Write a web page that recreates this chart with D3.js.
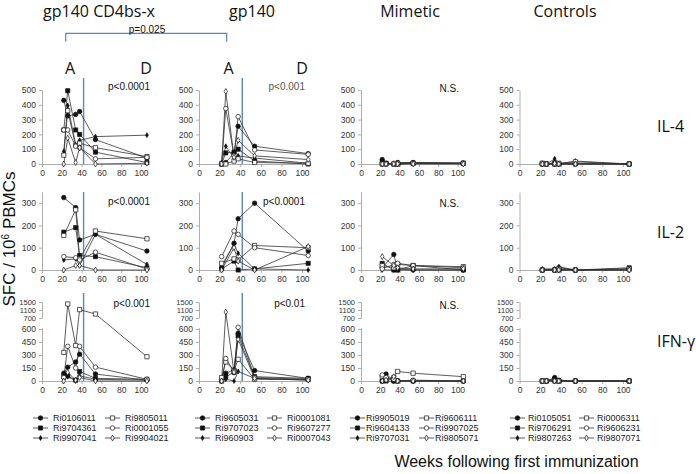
<!DOCTYPE html>
<html>
<head>
<meta charset="utf-8">
<script src="https://cdn.jsdelivr.net/npm/d3@7"></script>
<style>
  html, body { margin: 0; padding: 0; background: #fff; }
  svg { display: block; }
</style>
</head>
<body>
<script>
// ---------------- DATA ----------------
const weeks = [22, 26, 34, 38, 54, 106];
const groupTitles = ["gp140 CD4bs-x", "gp140", "Mimetic", "Controls"];
const cytokineLabels = ["IL-4", "IL-2", "IFN-\u03b3"];
const pIL4 = ["p<0.0001", "p<0.001", "N.S.", ""];
const pIL2 = ["p<0.0001", "p<0.0001", "N.S.", ""];
const pIFN = ["p<0.001", "p<0.01", "N.S.", ""];
const bracketLabel = "p=0.025";
const phaseLabels = ["A", "D"];
const blueLineWeek = 42;
const xTicks = [0, 20, 40, 60, 80, 100];
const yTicksIL4 = [0, 100, 200, 300, 400, 500];
const yTicksIL2 = [0, 100, 200, 300];
const yTicksIFNLow = [0, 150, 300, 450, 600];
const yTicksIFNHigh = [700, 1100, 1500];

const animalsCD4bs = ["Ri0106011", "Ri9704361", "Ri9907041", "Ri9805011", "Ri0001055", "Ri9904021"];
const animalsGp140 = ["Ri9605031", "Ri9707023", "Ri960903", "Ri0001081", "Ri9607277", "Ri0007043"];
const animalsMimetic = ["Ri9905019", "Ri9604133", "Ri9707031", "Ri9606111", "Ri9907025", "Ri9805071"];
const animalsControls = ["Ri0105051", "Ri9706291", "Ri9807263", "Ri0006311", "Ri9606231", "Ri9807071"];

// values per animal at the weeks above (null = not measured)
const il4CD4bs = [
  [430, 325, 335, 355, 165, 40],
  [230, 495, 230, 200, 80, 10],
  [85, 395, 130, 160, 185, 195],
  [60, 360, 125, 140, 110, 50],
  [230, 230, 120, 110, 35, 45],
  [0, 175, 10, 110, 0, 5]
];
const il2CD4bs = [
  [325, null, 280, 135, 160, 85],
  [170, null, 190, 65, 60, 10],
  [45, null, 50, 20, 160, 25],
  [155, null, 270, 50, 175, 140],
  [60, null, 55, 45, 80, 5],
  [0, null, 20, 20, 0, 0]
];
const ifnCD4bs = [
  [90, 160, 220, 310, 80, 10],
  [50, 60, 10, 110, 30, 20],
  [20, 50, 0, 60, 20, 10],
  [330, 1400, 410, 1120, 900, 280],
  [40, 400, 150, 400, 160, 20],
  [0, 100, 10, 40, 0, 0]
];
const il4Gp140 = [
  [5, 10, 75, 255, 120, 70],
  [0, 75, 80, 100, 20, 0],
  [10, 120, 40, 55, 40, 5],
  [0, 0, 20, 35, 10, 5],
  [5, 375, 55, 320, 95, 65],
  [0, 490, 45, 160, 55, 30]
];
const il2Gp140 = [
  [10, null, 120, 230, 300, 85],
  [5, null, 40, 0, 5, 30],
  [20, null, 115, 75, 5, 0],
  [30, null, 50, 45, 110, 100],
  [60, null, 175, 160, 100, 65],
  [0, null, 100, 40, 0, 105]
];
const ifnGp140 = [
  [10, 90, 130, 550, 120, 30],
  [0, 50, 100, 520, 50, 30],
  [20, 20, 0, 110, 30, 10],
  [40, 220, 120, 250, 20, 20],
  [0, 260, 110, 620, 40, 20],
  [0, 1000, 100, 480, 30, 10]
];
const il4Mimetic = [
  [30, 5, 0, 10, 10, 5],
  [10, 5, 0, 0, 5, 5],
  [5, 0, 0, 5, 10, 5],
  [0, 0, 0, 0, 5, 5],
  [0, 0, 5, 5, 5, 5],
  [0, 0, 0, 0, 0, 0]
];
const il2Mimetic = [
  [10, null, 70, 0, 0, 0],
  [30, null, 0, 0, 20, 0],
  [0, null, 0, 5, 0, 0],
  [20, null, 10, 25, 20, 15],
  [5, null, 25, 30, 20, 10],
  [60, null, 20, 10, 5, 5]
];
const ifnMimetic = [
  [0, 80, 0, 0, 0, 0],
  [0, 0, 0, 0, 0, 0],
  [20, 30, 10, 5, 0, 0],
  [50, 20, 40, 110, 90, 50],
  [70, 40, 20, 0, 10, 0],
  [0, 10, 50, 0, 0, 0]
];
const il4Controls = [
  [5, 0, 10, 0, 5, 0],
  [0, 0, 0, 0, 0, 0],
  [0, 0, 35, 0, 20, 0],
  [5, 0, 0, 5, 15, 0],
  [0, 0, 0, 0, 0, 0],
  [0, 0, 5, 0, 0, 0]
];
const il2Controls = [
  [0, null, 0, 10, 0, 5],
  [0, null, 0, 0, 0, 10],
  [5, null, 5, 15, 0, 0],
  [0, null, 0, 5, 0, 5],
  [0, null, 0, 0, 0, 0],
  [0, null, 0, 0, 0, 0]
];
const ifnControls = [
  [0, 0, 40, 10, 0, 0],
  [0, 0, 20, 0, 0, 0],
  [0, 0, 30, 5, 0, 0],
  [0, 0, 0, 0, 0, 0],
  [0, 0, 0, 0, 0, 0],
  [0, 0, 0, 0, 0, 0]
];

// ---------------- BUILD ----------------
const groups = [
  { title: groupTitles[0], animals: animalsCD4bs, rows: [il4CD4bs, il2CD4bs, ifnCD4bs] },
  { title: groupTitles[1], animals: animalsGp140, rows: [il4Gp140, il2Gp140, ifnGp140] },
  { title: groupTitles[2], animals: animalsMimetic, rows: [il4Mimetic, il2Mimetic, ifnMimetic] },
  { title: groupTitles[3], animals: animalsControls, rows: [il4Controls, il2Controls, ifnControls] }
];
const pTexts = [pIL4, pIL2, pIFN];

const W = 696, H = 474;
const BLUE = "#5a85c3";
const sansA = "'Liberation Sans', Arial, sans-serif";
const sansT = "'Open Sans', sans-serif";

// layout
const colX0 = [42, 199, 361, 519.5];
const colX100 = [141, 302, 457.5, 623];
const titleX = [99, 252, 410, 565];
const legendX = [33, 195, 350, 510];
const legendTextOff = [20, 20, 16, 18];
const legendColOff = [72, 72, 69, 69];

const svg = d3.select("body").append("svg").attr("width", W).attr("height", H)
  .style("font-family", sansA);

// marker styles per series index
const markerDefs = [
  { type: d3.symbolCircle, size: 16, fill: "#111" },
  { type: d3.symbolSquare, size: 17, fill: "#111" },
  { type: d3.symbolDiamond, size: 7, fill: "#111" },
  { type: d3.symbolSquare, size: 18, fill: "#fff" },
  { type: d3.symbolCircle, size: 16, fill: "#fff" },
  { type: d3.symbolDiamond, size: 10, fill: "#fff" }
];

function rowScale(r) {
  if (r === 0) {
    const s = d3.scaleLinear().domain([0, 500]).range([164, 90]);
    return { f: v => s(v), axes: [{ scale: s, ticks: yTicksIL4, fs: 8.5 }], base: 164, top: 78, bottom: 164 };
  }
  if (r === 1) {
    const s = d3.scaleLinear().domain([0, 350]).range([270, 192]);
    return { f: v => s(v), axes: [{ scale: s, ticks: yTicksIL2, fs: 8.5 }], base: 270, top: 192, bottom: 270 };
  }
  const lo = d3.scaleLinear().domain([0, 615]).range([381, 381 - 52 * 615 / 600]);
  const hi = d3.scaleLinear().domain([700, 1500]).range([318, 302]);
  return {
    f: v => (v <= 650 ? lo(v) : hi(v)),
    axes: [{ scale: lo, ticks: yTicksIFNLow, fs: 8.5 }, { scale: hi, ticks: yTicksIFNHigh, fs: 7.5 }],
    base: 381, top: 293, bottom: 381
  };
}

groups.forEach((g, c) => {
  const x = d3.scaleLinear().domain([0, 108]).range([colX0[c], colX0[c] + (colX100[c] - colX0[c]) * 1.08]);

  // group title
  svg.append("text").attr("x", titleX[c]).attr("y", 17).attr("text-anchor", "middle")
    .style("font-family", sansT).style("font-size", "16px").attr("fill", "#111").text(g.title);

  for (let r = 0; r < 3; r++) {
    const rs = rowScale(r);
    const panel = svg.append("g");

    // x axis
    panel.append("g").attr("class", "xax").attr("transform", `translate(0,${rs.base})`)
      .call(d3.axisBottom(x).tickValues(xTicks).tickFormat(d3.format("d"))
        .tickSize(3).tickPadding(3).tickSizeOuter(0));
    panel.selectAll(".xax .tick text").style("font-size", "8.5px");
    // y axis/axes
    rs.axes.forEach(a => {
      const ya = panel.append("g").attr("transform", `translate(${colX0[c]},0)`)
        .call(d3.axisLeft(a.scale).tickValues(a.ticks).tickFormat(d3.format("d"))
          .tickSize(3).tickPadding(3).tickSizeOuter(0));
      ya.selectAll(".tick text").style("font-size", a.fs + "px");
    });
    panel.selectAll(".domain").attr("stroke", "#999").attr("stroke-width", 0.8);
    panel.selectAll(".tick line").attr("stroke", "#999").attr("stroke-width", 0.8);
    panel.selectAll(".tick text").attr("fill", "#333").style("font-family", sansA);

    // blue vertical line
    if (c < 2) {
      panel.append("line").attr("x1", x(blueLineWeek)).attr("x2", x(blueLineWeek))
        .attr("y1", rs.top).attr("y2", rs.bottom).attr("stroke", BLUE).attr("stroke-width", 1.4);
    }

    // series lines
    const data = g.rows[r];
    const line = d3.line().x(d => x(d.w)).y(d => rs.f(d.v));
    data.forEach((vals) => {
      const pts = vals.map((v, i) => ({ w: weeks[i], v: v })).filter(d => d.v !== null);
      panel.append("path").datum(pts).attr("d", line).attr("fill", "none")
        .attr("stroke", "#333").attr("stroke-width", 0.8);
    });
    data.forEach((vals, si) => {
      const m = markerDefs[si];
      const sym = d3.symbol().type(m.type).size(m.size);
      vals.forEach((v, i) => {
        if (v === null) return;
        panel.append("path").attr("d", sym())
          .attr("transform", `translate(${x(weeks[i])},${rs.f(v)})`)
          .attr("fill", m.fill).attr("stroke", "#111").attr("stroke-width", 0.7);
      });
    });

    // p-value text
    const pt = pTexts[r][c];
    if (pt) {
      const py = [90, 205, 307][r];
      const isNS = pt === "N.S.";
      panel.append("text").attr("x", isNS ? colX0[c] + 98 : colX0[c] + (c === 0 ? 108 : 106))
        .attr("y", isNS ? py + 2 : py).attr("text-anchor", "end")
        .style("font-size", "10px").attr("fill", c === 1 && r === 0 ? "#555" : "#111").text(pt);
    }
  }

  // A / D labels
  if (c < 2) {
    const x0 = [70, 228.5][c], x1 = [146, 302][c];
    [x0, x1].forEach((xx, k) => {
      svg.append("text").attr("x", xx).attr("y", 74).attr("text-anchor", "middle")
        .style("font-family", sansT).style("font-size", "16px").attr("fill", "#111").text(phaseLabels[k]);
    });
  }

  // legend
  g.animals.forEach((name, si) => {
    const col = si < 3 ? 0 : 1;
    const row = si % 3;
    const lx = legendX[c] + col * legendColOff[c];
    const ly = 418 + row * 10;
    const lg = svg.append("g");
    lg.append("line").attr("x1", lx).attr("x2", lx + 15).attr("y1", ly).attr("y2", ly)
      .attr("stroke", "#333").attr("stroke-width", 0.8);
    const m = markerDefs[si];
    lg.append("path").attr("d", d3.symbol().type(m.type).size(m.size)())
      .attr("transform", `translate(${lx + 7.5},${ly})`)
      .attr("fill", m.fill).attr("stroke", "#111").attr("stroke-width", 0.7);
    lg.append("text").attr("x", lx + legendTextOff[c]).attr("y", ly + 3.3)
      .style("font-size", "9px").attr("fill", "#222").text(name);
  });
});

// bracket
svg.append("path").attr("d", "M65.7,41.7 V33.3 H226.7 V41.7").attr("fill", "none")
  .attr("stroke", BLUE).attr("stroke-width", 1.2);
svg.append("text").attr("x", 147).attr("y", 33).attr("text-anchor", "middle")
  .style("font-size", "10px").attr("fill", "#111").text(bracketLabel);

// row labels
[131.5, 238, 347].forEach((yy, r) => {
  svg.append("text").attr("x", 657).attr("y", yy).style("font-family", sansT)
    .style("font-size", "16px").attr("fill", "#111").text(cytokineLabels[r]);
});

// y title
const yt = svg.append("text").attr("transform", "translate(15,239) rotate(-90)")
  .attr("text-anchor", "middle").style("font-size", "17px").attr("fill", "#111");
yt.append("tspan").text("SFC / 10");
yt.append("tspan").attr("dy", -6).style("font-size", "10px").text("6");
yt.append("tspan").attr("dy", 6).text(" PBMCs");

// x title
svg.append("text").attr("x", 516.5).attr("y", 467).attr("text-anchor", "middle")
  .style("font-size", "16px").attr("fill", "#111").text("Weeks following first immunization");
</script>
</body>
</html>
